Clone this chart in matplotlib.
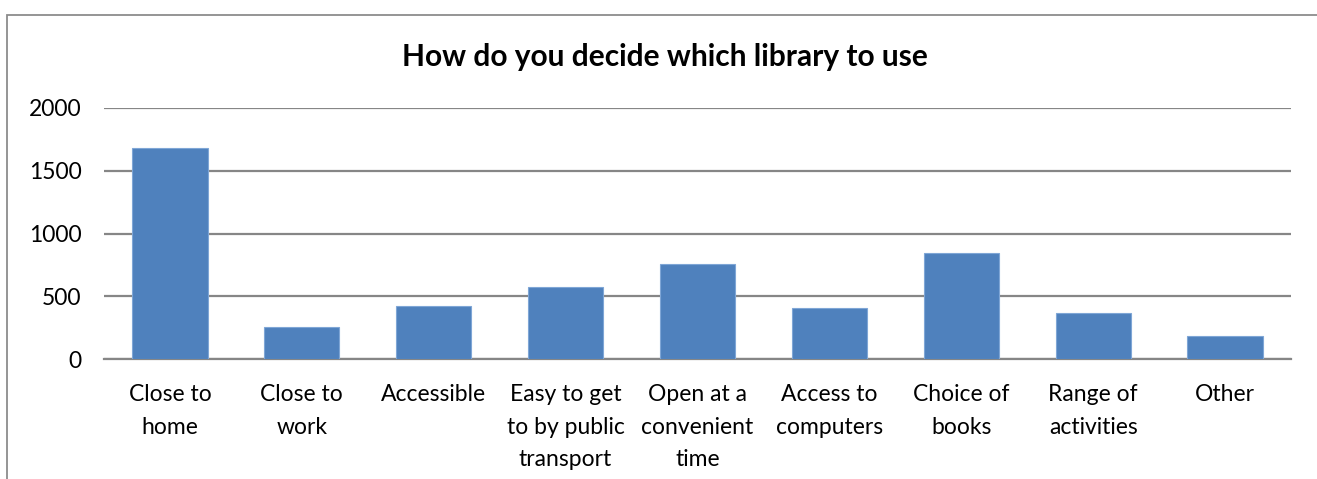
import matplotlib
matplotlib.use("Agg")
import matplotlib.pyplot as plt
from matplotlib.patches import Rectangle

categories = [
    "Close to\nhome", "Close to\nwork", "Accessible",
    "Easy to get\nto by public\ntransport", "Open at a\nconvenient\ntime",
    "Access to\ncomputers", "Choice of\nbooks", "Range of\nactivities", "Other",
]
counts = [1680, 258, 425, 571, 754, 409, 842, 364, 181]
y_ticks = [0, 500, 1000, 1500, 2000]
title = "How do you decide which library to use"

plt.rcParams["font.family"] = ["Lato", "DejaVu Sans"]

W, H = 1317, 479
fig = plt.figure(figsize=(W / 100, H / 100), dpi=100)
fig.patch.set_facecolor("white")

# chart frame
fig.patches.append(Rectangle((7 / W, -0.2), (W - 7 + 50) / W, 1.2 - 15 / H,
                             transform=fig.transFigure, fill=False,
                             edgecolor="#8c8c8c", linewidth=1.3, zorder=0))

ax = fig.add_axes([104 / W, 1 - 359 / H, 1187 / W, (359 - 108) / H])
x = list(range(len(categories)))
ax.bar(x, counts, width=0.57, color="#4f81bd", edgecolor="#7fa6d6",
       linewidth=0.8, zorder=3)
ax.set_xlim(-0.5, len(categories) - 0.5)
ax.set_ylim(0, 2000)
ax.set_yticks(y_ticks)
ax.set_yticklabels([str(v) for v in y_ticks], fontsize=16.5, color="#000000")
ax.set_xticks(x)
ax.set_xticklabels(categories, fontsize=16.5, color="#000000", linespacing=1.68)
ax.tick_params(axis="both", length=0)
ax.tick_params(axis="y", pad=16)
ax.tick_params(axis="x", pad=18)
for s in ["top", "right", "left"]:
    ax.spines[s].set_visible(False)
ax.spines["bottom"].set_color("#868686")
ax.spines["bottom"].set_linewidth(1.6)
ax.yaxis.grid(True, color="#868686", linewidth=1.6, zorder=0)
ax.set_axisbelow(True)

fig.text(665 / W, 1 - 57 / H, title, ha="center", va="center",
         fontsize=21.5, fontweight="bold", color="#000000")

fig.savefig("out.png", dpi=100, facecolor="white")
